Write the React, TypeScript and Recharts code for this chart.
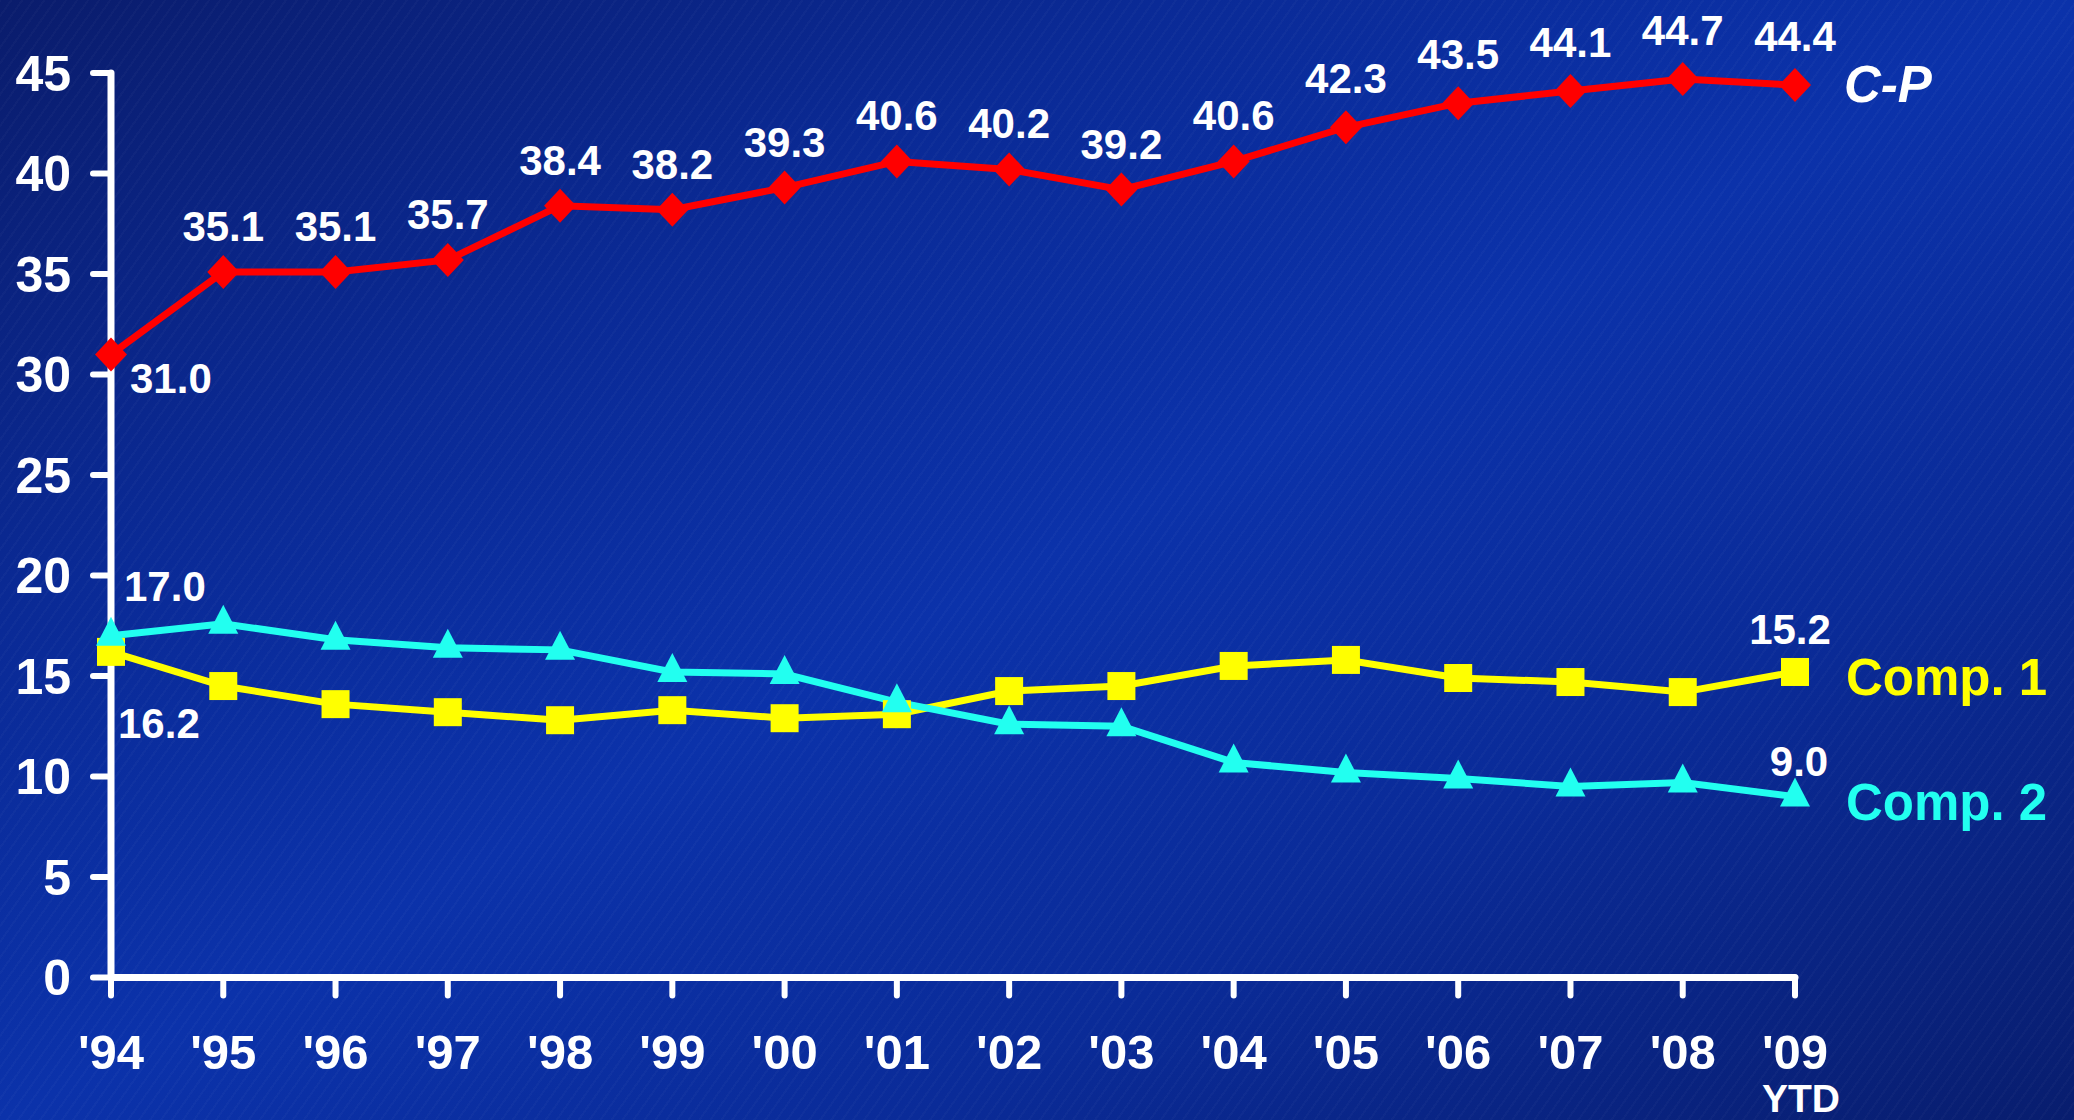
import { LineChart, Line, XAxis, YAxis, LabelList } from 'recharts'

const years = ["'94", "'95", "'96", "'97", "'98", "'99", "'00", "'01", "'02", "'03", "'04", "'05", "'06", "'07", "'08", "'09"]
const yearNotes = ['', '', '', '', '', '', '', '', '', '', '', '', '', '', '', 'YTD']

const cpValues    = [31.0, 35.1, 35.1, 35.7, 38.4, 38.2, 39.3, 40.6, 40.2, 39.2, 40.6, 42.3, 43.5, 44.1, 44.7, 44.4]
const comp1Values = [16.2, 14.5, 13.6, 13.2, 12.8, 13.3, 12.9, 13.1, 14.25, 14.5, 15.5, 15.8, 14.9, 14.7, 14.2, 15.2]
const comp2Values = [17.0, 17.6, 16.8, 16.4, 16.3, 15.2, 15.1, 13.7, 12.6, 12.5, 10.7, 10.2, 9.9, 9.5, 9.7, 9.0]

const seriesNames = ['C-P', 'Comp. 1', 'Comp. 2']
const yTicks = [0, 5, 10, 15, 20, 25, 30, 35, 40, 45]

const FONT = "'Liberation Sans', Arial, Helvetica, sans-serif"
const RED = '#ff0000'
const YELLOW = '#ffff00'
const CYAN = '#22fff0'
const LAST = years.length - 1

const data = years.map((year, i) => ({
  year,
  cp:    cpValues[i],
  comp1: comp1Values[i],
  comp2: comp2Values[i],
}))

const labelStyle = { fill: '#fff', fontSize: 42, fontWeight: 700, fontFamily: FONT }
const nameStyle = { fontSize: 51, fontWeight: 700, fontFamily: FONT }

// pull x / y / index out of whatever LabelList hands us
function pos(props: any) {
  const vb = props.viewBox || {}
  const x = props.x ?? vb.x
  const y = props.y ?? vb.y
  return { x: Number(x), y: Number(y), index: props.index as number, value: Number(props.value) }
}

function CpLabel(props: any) {
  const { x, y, index, value } = pos(props)
  if (!isFinite(x) || !isFinite(y)) return null
  const txt = value.toFixed(1)
  return (
    <g>
      {index === 0
        ? <text x={x + 19} y={y + 39} textAnchor="start" {...labelStyle}>{txt}</text>
        : <text x={x} y={y - (y < 150 ? 34 : 31)} textAnchor="middle" {...labelStyle}>{txt}</text>}
      {index === LAST && (
        <text x={x + 49} y={y + 17} fill="#fff" fontStyle="italic" {...nameStyle}>{seriesNames[0]}</text>
      )}
    </g>
  )
}

function Comp1Label(props: any) {
  const { x, y, index, value } = pos(props)
  if (!isFinite(x) || !isFinite(y)) return null
  const txt = value.toFixed(1)
  if (index === 0) return <text x={x + 7} y={y + 86} textAnchor="start" {...labelStyle}>{txt}</text>
  if (index === LAST) return (
    <g>
      <text x={x - 5} y={y - 28} textAnchor="middle" {...labelStyle}>{txt}</text>
      <text x={x + 51} y={y + 23} fill={YELLOW} {...nameStyle}>{seriesNames[1]}</text>
    </g>
  )
  return null
}

function Comp2Label(props: any) {
  const { x, y, index, value } = pos(props)
  if (!isFinite(x) || !isFinite(y)) return null
  const txt = value.toFixed(1)
  if (index === 0) return <text x={x + 13} y={y - 35} textAnchor="start" {...labelStyle}>{txt}</text>
  if (index === LAST) return (
    <g>
      <text x={x + 4} y={y - 21} textAnchor="middle" {...labelStyle}>{txt}</text>
      <text x={x + 51} y={y + 23} fill={CYAN} {...nameStyle}>{seriesNames[2]}</text>
    </g>
  )
  return null
}

const Diamond = (p: any) => {
  const { cx, cy, index } = p
  if (cx == null || cy == null) return <g key={`d-${index}`} />
  return <path key={`d-${index}`} d={`M${cx},${cy - 17}L${cx + 16},${cy}L${cx},${cy + 17}L${cx - 16},${cy}Z`} fill={RED} />
}

const Square = (p: any) => {
  const { cx, cy, index } = p
  if (cx == null || cy == null) return <g key={`s-${index}`} />
  return <rect key={`s-${index}`} x={cx - 14} y={cy - 14} width={28} height={28} fill={YELLOW} />
}

const Triangle = (p: any) => {
  const { cx, cy, index } = p
  if (cx == null || cy == null) return <g key={`t-${index}`} />
  return <path key={`t-${index}`} d={`M${cx},${cy - 19}L${cx + 15},${cy + 10}L${cx - 15},${cy + 10}Z`} fill={CYAN} />
}

const XTick = (props: any) => {
  const { x, y, payload, index } = props
  const i = index ?? years.indexOf(payload.value)
  return (
    <g>
      <text x={x} y={y + 73} textAnchor="middle" fill="#fff" fontSize={49} fontWeight={700} fontFamily={FONT}>
        {payload.value}
      </text>
      {yearNotes[i] && (
        <text x={x + 6} y={y + 116} textAnchor="middle" fill="#fff" fontSize={39} fontWeight={700} fontFamily={FONT}>
          {yearNotes[i]}
        </text>
      )}
    </g>
  )
}

export default function App() {
  return (
    <div
      style={{
        position: 'absolute', left: 0, top: 0, width: 2074, height: 1120, overflow: 'hidden',
        background:
          'repeating-linear-gradient(-55deg, rgba(255,255,255,0.022) 0px, rgba(255,255,255,0.022) 2px, rgba(0,0,0,0) 2px, rgba(0,0,0,0) 9px),' +
          'linear-gradient(to bottom right, #0a1c6c 0%, #0a2a96 28%, #0b32aa 50%, #0a2b98 72%, #081d6e 100%)',
      }}
    >
      <LineChart
        width={2074}
        height={1120}
        data={data}
        margin={{ top: 73, right: 279, bottom: 0, left: 0 }}
      >
        <XAxis
          dataKey="year"
          interval={0}
          height={142.5}
          padding={{ left: 0, right: 0 }}
          axisLine={{ stroke: '#fff', strokeWidth: 7, strokeLinecap: 'round' }}
          tickLine={{ stroke: '#fff', strokeWidth: 6, strokeLinecap: 'round' }}
          tickSize={18}
          tickMargin={0}
          tick={<XTick />}
        />
        <YAxis
          width={111}
          domain={[0, 45]}
          ticks={yTicks}
          interval={0}
          axisLine={{ stroke: '#fff', strokeWidth: 7, strokeLinecap: 'round' }}
          tickLine={{ stroke: '#fff', strokeWidth: 6, strokeLinecap: 'round' }}
          tickSize={18}
          tickMargin={22}
          tick={{ fill: '#fff', fontSize: 50, fontWeight: 700, fontFamily: FONT }}
        />
        <Line dataKey="cp" stroke={RED} strokeWidth={7} dot={Diamond} activeDot={false} isAnimationActive={false}>
          <LabelList dataKey="cp" content={CpLabel} />
        </Line>
        <Line dataKey="comp1" stroke={YELLOW} strokeWidth={7} dot={Square} activeDot={false} isAnimationActive={false}>
          <LabelList dataKey="comp1" content={Comp1Label} />
        </Line>
        <Line dataKey="comp2" stroke={CYAN} strokeWidth={7} dot={Triangle} activeDot={false} isAnimationActive={false}>
          <LabelList dataKey="comp2" content={Comp2Label} />
        </Line>
      </LineChart>
    </div>
  )
}
